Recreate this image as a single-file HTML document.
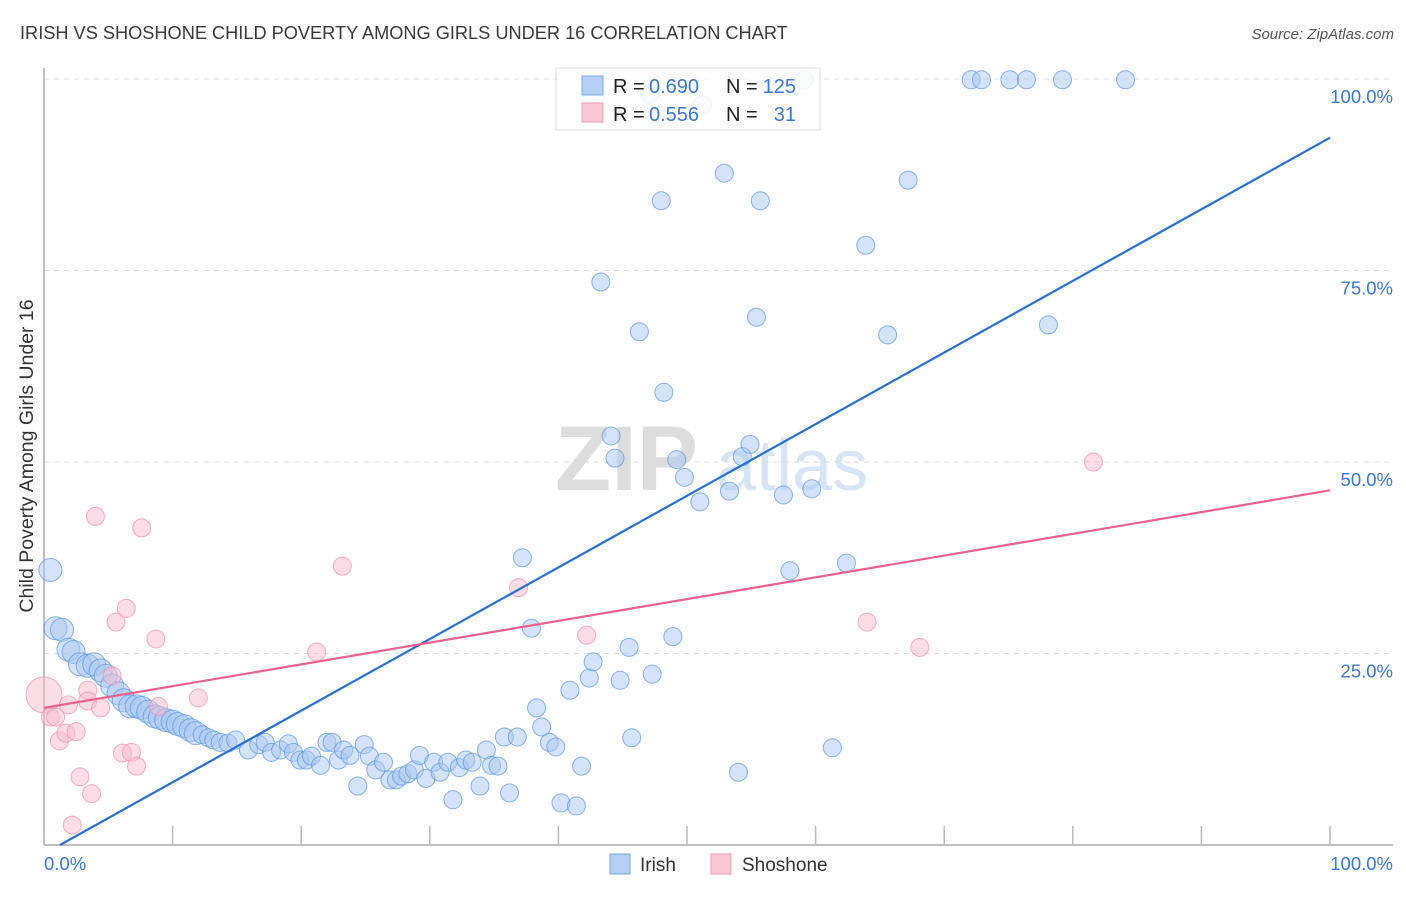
<!DOCTYPE html>
<html><head><meta charset="utf-8"><style>
body{margin:0;background:#fff;font-family:"Liberation Sans",sans-serif;}
svg text{font-family:"Liberation Sans",sans-serif;}
</style></head><body>
<svg id="chart" width="1406" height="892" xmlns="http://www.w3.org/2000/svg">
<text x="20" y="39" font-size="18.2" fill="#3a3a3a">IRISH VS SHOSHONE CHILD POVERTY AMONG GIRLS UNDER 16 CORRELATION CHART</text>
<text x="1394" y="39" font-size="15" fill="#555" font-style="italic" text-anchor="end">Source: ZipAtlas.com</text>
<text x="33" y="456" font-size="19.5" fill="#333" text-anchor="middle" transform="rotate(-90 33 456)">Child Poverty Among Girls Under 16</text>
<g><text x="555" y="490" font-size="92" fill="#ddd" font-family="Liberation Serif,serif" font-weight="bold">ZIP</text><text x="716" y="490" font-size="72" fill="#d6e4f5">atlas</text></g>
<g id="grid"></g><g id="axes"></g><g id="pts"></g><g id="lines"></g>
<g>
<rect x="556" y="68" width="264" height="62" fill="#fff" fill-opacity="0.85" stroke="#ddd"/>
<rect x="582" y="76" width="21" height="19" fill="#b5d0f3" stroke="#7aaae8"/>
<rect x="582" y="103" width="21" height="19" fill="#f9c9d6" stroke="#f09ab4"/>
<text x="613" y="93" font-size="20" fill="#222">R =</text>
<text x="649" y="93" font-size="20" fill="#3a78d8">0.690</text>
<text x="726" y="93" font-size="20" fill="#222">N =</text>
<text x="796" y="93" font-size="20" fill="#3a78d8" text-anchor="end">125</text>
<text x="613" y="121" font-size="20" fill="#222">R =</text>
<text x="649" y="121" font-size="20" fill="#3a78d8">0.556</text>
<text x="726" y="121" font-size="20" fill="#222">N =</text>
<text x="796" y="121" font-size="20" fill="#3a78d8" text-anchor="end">31</text>
</g>
<g>
<rect x="610" y="854" width="20" height="20" fill="#b5d0f3" stroke="#7aaae8"/>
<text x="640" y="871" font-size="19" fill="#333">Irish</text>
<rect x="711" y="854" width="20" height="20" fill="#f9c9d6" stroke="#f09ab4"/>
<text x="742" y="871" font-size="19" fill="#333">Shoshone</text>
</g>
</svg>
<script>
const irishX=[0.5,0.9,1.4,1.9,2.3,2.8,3.4,3.9,4.4,4.8,5.3,5.8,6.2,6.7,7.2,7.6,8.1,8.6,9.0,9.5,10.0,10.4,10.9,11.4,11.8,12.3,12.8,13.2,13.7,14.3,14.9,15.9,16.7,17.2,17.7,18.4,19.0,19.4,19.9,20.4,20.8,21.5,22.0,22.4,22.9,23.3,23.8,24.4,24.9,25.3,25.8,26.4,26.9,27.4,27.8,28.3,28.8,29.2,29.7,30.3,30.8,31.4,31.8,32.3,32.8,33.3,33.9,34.4,34.8,35.3,35.8,36.2,36.8,37.2,37.9,38.3,38.7,39.3,39.8,40.2,40.9,41.4,41.8,42.4,42.7,43.3,44.1,44.4,44.8,45.5,45.7,46.3,47.3,48.0,48.2,48.9,49.2,49.8,51.0,52.9,53.3,54.0,54.3,54.9,55.4,55.7,57.5,58.0,59.1,59.7,61.3,62.4,63.9,65.6,67.2,72.1,72.9,75.1,76.4,78.1,79.2,84.1,47.1,51.2];
const irishY=[35.9,28.3,28.1,25.5,25.2,23.6,23.4,23.6,22.8,22.1,20.8,19.8,18.9,18.1,18.1,17.9,17.4,16.8,16.6,16.3,16.1,15.8,15.5,15.0,14.6,14.4,14.0,13.7,13.4,13.3,13.7,12.4,13.1,13.4,12.1,12.4,13.2,12.1,11.1,11.1,11.6,10.4,13.4,13.4,11.1,12.4,11.7,7.7,13.1,11.6,9.8,10.8,8.5,8.5,9.0,9.3,9.8,11.7,8.7,10.8,9.5,10.8,5.9,10.1,11.1,10.8,7.7,12.4,10.4,10.3,14.1,6.8,14.1,37.5,28.3,17.9,15.4,13.4,12.8,5.5,20.2,5.1,10.3,21.8,23.9,73.5,53.4,50.5,21.5,25.8,14.0,67.0,22.3,84.1,59.1,27.2,50.3,48.0,44.8,87.7,46.2,9.5,50.7,52.3,68.9,84.1,45.7,35.8,99.9,46.5,12.7,36.8,78.3,66.6,86.8,99.9,99.9,99.9,99.9,67.9,99.9,99.9,98.0,96.6];
const shoX=[0,0.5,0.9,1.2,1.7,1.9,2.2,2.5,2.8,3.4,3.4,3.7,4.0,4.4,5.3,5.6,6.1,6.4,6.8,7.2,7.6,8.7,8.9,12.0,21.2,23.2,36.9,42.2,64.0,68.1,81.6];
const shoY=[19.6,16.7,16.7,13.6,14.6,18.3,2.6,14.8,8.9,20.2,18.8,6.7,42.9,17.9,22.1,29.1,12.0,30.9,12.1,10.3,41.4,26.9,18.1,19.2,25.2,36.4,33.6,27.4,29.1,25.8,50.0];
const irishFit=[-1.16,0.935]; // intercept, slope
const shoFit=[17.9,0.284];
const yTicks=[25,50,75,100];
const yTickLabels=["25.0%","50.0%","75.0%","100.0%"];
const xTicks=[0,10,20,30,40,50,60,70,80,90,100];

const X=v=>44+v*12.86, Y=v=>845-v*7.66;
const NS="http://www.w3.org/2000/svg";
function mk(parent,tag,attrs){const e=document.createElementNS(NS,tag);for(const k in attrs)e.setAttribute(k,attrs[k]);document.getElementById(parent).appendChild(e);return e;}
yTicks.forEach((t,i)=>{
  const l=mk('grid','line',{x1:44,x2:1393,y1:Y(t),y2:Y(t),stroke:'#ddd','stroke-dasharray':'5,5'});
  
  
  const tx=mk('grid','text',{x:1393,y:Y(t)+24,'font-size':18.5,fill:'#3a78d8','text-anchor':'end'});
  tx.textContent=yTickLabels[i];
  
  
});
let a=mk('axes','line',{x1:44,x2:44,y1:68,y2:845,stroke:'#aaa','stroke-width':1.5});


a=mk('axes','line',{x1:44,x2:1393,y1:845,y2:845,stroke:'#aaa','stroke-width':1.5});


xTicks.forEach(t=>{const l=mk('axes','line',{x1:X(t),x2:X(t),y1:826,y2:845,stroke:'#bbb','stroke-width':1.5});
  
  });
let t0=mk('axes','text',{x:44,y:870,'font-size':18.5,fill:'#3a78d8'});t0.textContent='0.0%';


let t1=mk('axes','text',{x:1393,y:870,'font-size':18.5,fill:'#3a78d8','text-anchor':'end'});t1.textContent='100.0%';


irishX.forEach((x,i)=>{const r=(x<12)?11.5:9;
  const c=mk('pts','circle',{cx:X(x),cy:Y(irishY[i]),r:r,fill:'#a9c8f0','fill-opacity':0.5,stroke:'#5a95e0','stroke-opacity':0.7,'stroke-width':1});
  
  });
shoX.forEach((x,i)=>{const r=(i===0)?18:9;
  const c=mk('pts','circle',{cx:X(x),cy:Y(shoY[i]),r:r,fill:'#f7bccd','fill-opacity':0.5,stroke:'#ee8fab','stroke-opacity':0.7,'stroke-width':1});
  
  });
const x0=-irishFit[0]/irishFit[1];
let ln=mk('lines','line',{x1:X(x0),y1:Y(0),x2:X(100),y2:Y(irishFit[0]+100*irishFit[1]),stroke:'#2a6fd8','stroke-width':2.2});


ln=mk('lines','line',{x1:X(0),y1:Y(shoFit[0]),x2:X(100),y2:Y(shoFit[0]+100*shoFit[1]),stroke:'#e8628e','stroke-width':2.2});


</script>
</body></html>
